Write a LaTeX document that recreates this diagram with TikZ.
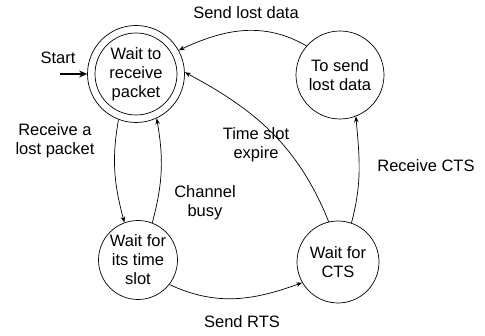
\documentclass[tikz,border=0pt]{standalone}
\usepackage{fontspec}
\setmainfont{Liberation Sans}
\usetikzlibrary{arrows.meta}
\begin{document}
\begin{tikzpicture}[x=1pt,y=1pt,
  state/.style={draw,circle,line width=0.7pt,inner sep=0pt},
  txt/.style={align=center,inner sep=0pt,font=\fontsize{16.5}{19}\selectfont},
  edge/.style={line width=0.7pt,-{Stealth[length=6pt,width=4.5pt]}}]
\useasboundingbox (0,0) rectangle (485,335);
% states
\node[state,minimum size=97pt] (w) at (136,261) {};
\node[state,minimum size=82pt] (wi) at (136,261) {};
\node[txt] (wt) at (136,261) {Wait to\\receive\\packet};
\node[state,minimum size=88pt] (ts) at (340,260) {};
\node[txt] (tst) at (340,260) {To send\\lost data};
\node[state,minimum size=79pt] (slot) at (138,75) {};
\node[txt] (slott) at (138,75) {Wait for\\its time\\slot};
\node[state,minimum size=82pt] (cts) at (338,73) {};
\node[txt] (ctst) at (338,73) {Wait for\\CTS};
% start
\coordinate (s0) at (60,261);
\draw[line width=2pt,-{Stealth[length=8pt,width=7pt]}] (s0) -- (w.west);
\node[txt] (startl) at (58,277) {Start};
% edges
\draw[edge] (ts.139) to[out=150,in=25] (w.29);
\draw[edge] (cts.103) to[out=112,in=-28] (w.2);
\draw[edge] (w.-111) to[out=-100,in=105] (slot.110);
\draw[edge] (slot.69) to[out=75,in=-80] (w.-65);
\draw[edge] (slot.-38) to[out=-25,in=200] (cts.210);
\draw[edge] (cts.71) to[out=75,in=-85] (ts.-69);
% labels
\node[txt] (l1) at (246,322) {Send lost data};
\node[txt] (l2) at (55,194) {Receive a\\lost packet};
\node[txt] (l3) at (256,190) {Time slot\\expire};
\node[txt] (l4) at (205,132) {Channel\\busy};
\node[txt] (l5) at (242,13) {Send RTS};
\node[txt] (l6) at (426,169) {Receive CTS};
\end{tikzpicture}
\end{document}
